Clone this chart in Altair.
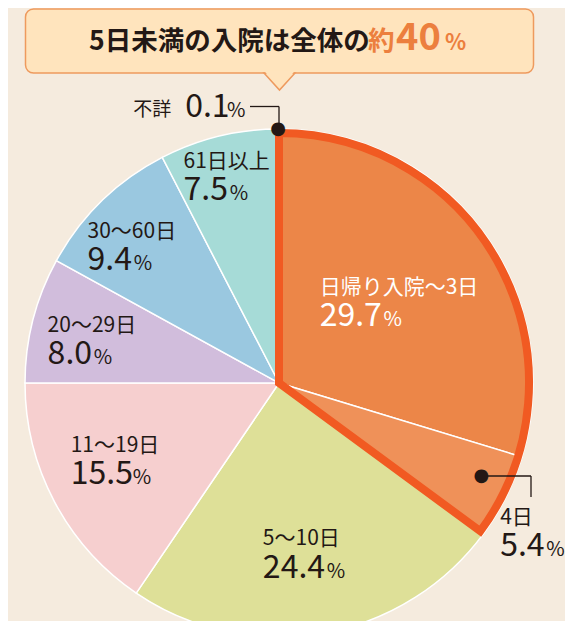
import altair as alt
import pandas as pd

# ---- data ----
categories = ["日帰り入院〜3日", "4日", "5〜10日", "11〜19日", "20〜29日", "30〜60日", "61日以上", "不詳"]
values = [29.7, 5.4, 24.4, 15.5, 8.0, 9.4, 7.5, 0.1]
colors = ["#EC8648", "#EF9159", "#DEE098", "#F6CFCF", "#D1BDDC", "#9AC8E0", "#A6DBD7", "#A6DBD7"]
under5 = ["日帰り入院〜3日", "4日"]
title_main = "5日未満の入院は全体の"
title_approx = "約"
title_value = "40"
title_unit = "%"

df = pd.DataFrame({
    "cat": categories,
    "value": values,
    "order": list(range(len(values))),
    "num": [f"{v:.1f}" for v in values],
})
total = float(sum(values))
dummy = pd.DataFrame({"k": [0]})

# ---- layout / style ----
W, H = 557, 613
CX, CY = 271, 375
R = 254
FONT = "Noto Sans CJK JP"
DARK = "#231815"
ORANGE = "#EC7F3E"
BOX_FILL = "#FFE4BD"
BOX_STROKE = "#EE9A5E"
BG = "#F5EBDE"

theta_scale = alt.Scale(domain=[0, total], range=[0, 6.283185307179586])


def num_width(s, fs):
    w = 0.0
    for i, ch in enumerate(s):
        if ch == ".":
            w += 0.27 * fs
        elif ch == "1":
            w += (0.42 if i == len(s) - 1 else 0.5) * fs
        else:
            w += 0.555 * fs
    return w


base = (
    alt.Chart(df)
    .transform_window(cum="sum(value)", sort=[alt.SortField("order", order="ascending")], frame=[None, 0])
    .transform_calculate(start="datum.cum - datum.value", mid="datum.cum - datum.value / 2")
)

slices = base.mark_arc(radius=R, stroke="white", strokeWidth=1.5).encode(
    theta=alt.Theta("start:Q", scale=theta_scale),
    theta2="cum:Q",
    color=alt.Color("cat:N", scale=alt.Scale(domain=categories, range=colors), legend=None),
    x=alt.value(CX),
    y=alt.value(CY),
)

outline = (
    base.transform_filter(alt.FieldOneOfPredicate(field="cat", oneOf=under5))
    .transform_aggregate(s="min(start)", e="max(cum)")
    .mark_arc(radius=R - 4, fillOpacity=0, stroke="#F15A22", strokeWidth=8, strokeJoin="miter")
    .encode(
        theta=alt.Theta("s:Q", scale=theta_scale),
        theta2="e:Q",
        x=alt.value(CX),
        y=alt.value(CY),
    )
)

# label placement: (radius of anchor on slice mid-angle, dx of left edge)
label_pos = {
    "日帰り入院〜3日": (139, -71),
    "4日": (328, -72),
    "5〜10日": (171, -45),
    "11〜19日": (161, -66),
    "20〜29日": (179, -58),
    "30〜60日": (194, -56),
    "61日以上": (215, -44),
}

layers = [slices, outline]
NAME_FS, NUM_FS, PCT_FS = 21, 32, 20
for cat, (r, dx) in label_pos.items():
    col = "white" if cat == "日帰り入院〜3日" else DARK
    sel = base.transform_filter(alt.FieldEqualPredicate(field="cat", equal=cat))
    enc = dict(theta=alt.Theta("mid:Q", scale=theta_scale), radius=alt.value(r), x=alt.value(CX), y=alt.value(CY))
    numstr = f"{values[categories.index(cat)]:.1f}"
    layers.append(sel.mark_text(align="left", baseline="alphabetic", dx=dx, dy=-6.5, fontSize=NAME_FS,
                                font=FONT, color=col).encode(text="cat:N", **enc))
    layers.append(sel.mark_text(align="left", baseline="alphabetic", dx=dx, dy=26, fontSize=NUM_FS,
                                font=FONT, color=col).encode(text="num:N", **enc))
    layers.append(sel.mark_text(align="left", baseline="alphabetic", dx=dx + num_width(numstr, NUM_FS) + 2, dy=26,
                                fontSize=PCT_FS, font=FONT, color=col).encode(text=alt.value("%"), **enc))

# 不詳 label (outside, at top)
sel_u = base.transform_filter(alt.FieldEqualPredicate(field="cat", equal="不詳"))
enc_u = dict(theta=alt.Theta("mid:Q", scale=theta_scale), radius=alt.value(R), x=alt.value(CX), y=alt.value(CY))
layers.append(sel_u.mark_text(align="left", baseline="alphabetic", dx=-145, dy=-13, fontSize=19,
                              font=FONT, color=DARK).encode(text="cat:N", **enc_u))
layers.append(sel_u.mark_text(align="left", baseline="alphabetic", dx=-93, dy=-12, fontSize=NUM_FS,
                              font=FONT, color=DARK).encode(text="num:N", **enc_u))
layers.append(sel_u.mark_text(align="left", baseline="alphabetic", dx=-93 + num_width("0.1", NUM_FS) + 2, dy=-12,
                              fontSize=PCT_FS, font=FONT, color=DARK).encode(text=alt.value("%"), **enc_u))

# leader lines
def rule(**kw):
    return alt.Chart(dummy).mark_rule(color=DARK, strokeWidth=1.3).encode(**{k: alt.value(v) for k, v in kw.items()})

layers.append(rule(x=242, x2=271, y=98.5))
layers.append(rule(x=271, y=98.5, y2=121))
layers.append(rule(x=474, x2=523, y=468))
layers.append(rule(x=523, y=468, y2=489))

# dots
layers.append(sel_u.mark_text(align="center", baseline="middle", fontSize=18, font="DejaVu Sans", color=DARK)
              .encode(text=alt.value("●"), **enc_u))
sel_4 = base.transform_filter(alt.FieldEqualPredicate(field="cat", equal="4日"))
layers.append(sel_4.mark_text(align="center", baseline="middle", fontSize=18, font="DejaVu Sans", color=DARK,
                              dx=4, dy=-7)
              .encode(text=alt.value("●"), theta=alt.Theta("mid:Q", scale=theta_scale), radius=alt.value(222),
                      x=alt.value(CX), y=alt.value(CY)))

# callout box
tri = "M-1,-0.55L1,-0.55L0,0.55Z"
box = alt.Chart(dummy).mark_rect(fill=BOX_FILL, stroke=BOX_STROKE, strokeWidth=1.5, cornerRadius=8).encode(
    x=alt.value(17.5), x2=alt.value(525.5), y=alt.value(1), y2=alt.value(65))
pointer = alt.Chart(dummy).mark_point(shape=tri, size=961, filled=True, fill=BOX_FILL, stroke=BOX_STROKE,
                                      strokeWidth=1.5, opacity=1, fillOpacity=1, strokeOpacity=1).encode(
    x=alt.value(271.5), y=alt.value(73.5))
cover = alt.Chart(dummy).mark_point(shape=tri, size=961, filled=True, fill=BOX_FILL, strokeWidth=0,
                                    opacity=1, fillOpacity=1).encode(x=alt.value(271.5), y=alt.value(71.3))
layers += [box, pointer, cover]

def ttext(s, x, fs, color):
    return alt.Chart(dummy).mark_text(align="left", baseline="alphabetic", fontSize=fs, font=FONT,
                                      fontWeight="bold", color=color).encode(
        text=alt.value(s), x=alt.value(x), y=alt.value(42))

layers += [
    ttext(title_main, 81, 26.5, DARK),
    ttext(title_approx, 360, 26.5, ORANGE),
    ttext(title_value, 388, 38, ORANGE),
    ttext(title_unit, 437, 22, ORANGE),
]

chart = (
    alt.layer(*layers)
    .properties(width=W, height=H, padding=0, autosize="none", background=BG)
    .configure_view(stroke=None)
)

chart.save("out.html", embed_options={"renderer": "svg", "actions": False})
